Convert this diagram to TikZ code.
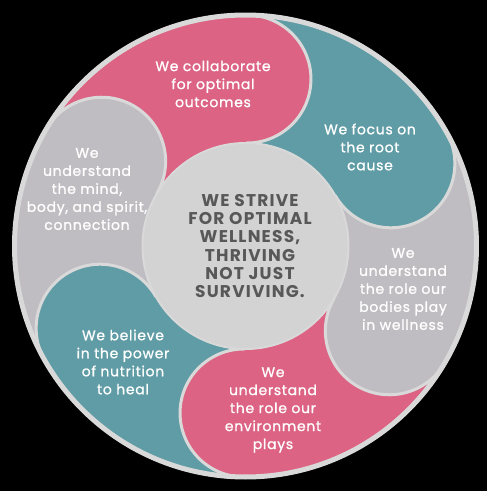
\documentclass[tikz,border=0pt]{standalone}
\usepackage{fontspec}
\setmainfont{Poppins}
\usepackage{xcolor}
\usepackage{tikz}
\definecolor{petalpink}{HTML}{DC6383}
\definecolor{petalteal}{HTML}{5F9CA5}
\definecolor{petalgray}{HTML}{BFBDC1}
\definecolor{hubgray}{HTML}{D3D3D3}
\definecolor{seamgray}{HTML}{D9D9D9}
\definecolor{hubtext}{HTML}{585858}
\tikzstyle{pinkpart}=[fill=petalpink]
\tikzstyle{tealpart}=[fill=petalteal]
\tikzstyle{graypart}=[fill=petalgray]
\tikzstyle{seam}=[draw=seamgray, line width=3pt]
\tikzstyle{rim}=[draw=seamgray, line width=5pt]
\tikzstyle{hub}=[circle, fill=hubgray, draw=seamgray, line width=2pt,
        minimum size=206pt, inner sep=0pt]
\tikzstyle{petaltext}=[align=center, text=white, inner sep=0pt,
        font=\fontsize{14}{18}\selectfont\addfontfeatures{LetterSpace=5,FakeBold=1}]
\tikzstyle{motto}=[align=center, text=hubtext, inner sep=0pt,
        font=\fontsize{17}{18.3}\selectfont\bfseries\addfontfeatures{LetterSpace=7}]

\begin{document}
\begin{tikzpicture}
      [x=1pt, y=1pt]
      \fill[black] (-245.5,-245) rectangle (241.5,246);
      \useasboundingbox (-245.5,-245) rectangle (241.5,246);
      % Ring parts, one for each petal
      \fill[pinkpart] (89.5:100) arc[start angle=89.5, end angle=149.5, radius=100] -- (149.5:233) arc[start angle=149.5, end angle=89.5, radius=233] -- cycle;
      \fill[tealpart] (29.5:100) arc[start angle=29.5, end angle=89.5, radius=100] -- (89.5:233) arc[start angle=89.5, end angle=29.5, radius=233] -- cycle;
      \fill[graypart] (-30.5:100) arc[start angle=-30.5, end angle=29.5, radius=100] -- (29.5:233) arc[start angle=29.5, end angle=-30.5, radius=233] -- cycle;
      \fill[pinkpart] (-90.5:100) arc[start angle=-90.5, end angle=-30.5, radius=100] -- (-30.5:233) arc[start angle=-30.5, end angle=-90.5, radius=233] -- cycle;
      \fill[tealpart] (-150.5:100) arc[start angle=-150.5, end angle=-90.5, radius=100] -- (-90.5:233) arc[start angle=-90.5, end angle=-150.5, radius=233] -- cycle;
      \fill[graypart] (149.5:100) arc[start angle=149.5, end angle=209.5, radius=100] -- (209.5:233) arc[start angle=209.5, end angle=149.5, radius=233] -- cycle;
      % Round heads
      \fill[pinkpart] (89.5:167) circle (64);
      \fill[tealpart] (29.5:167) circle (64);
      \fill[graypart] (-30.5:167) circle (64);
      \fill[pinkpart] (-90.5:167) circle (64);
      \fill[tealpart] (-150.5:167) circle (64);
      \fill[graypart] (149.5:167) circle (64);
      % Seams along the heads
      \draw[seam] (89.5:231) arc[start angle=89.5, end angle=-90.5, radius=64];
      \draw[seam] (29.5:231) arc[start angle=29.5, end angle=-150.5, radius=64];
      \draw[seam] (-30.5:231) arc[start angle=-30.5, end angle=-210.5, radius=64];
      \draw[seam] (-90.5:231) arc[start angle=-90.5, end angle=-270.5, radius=64];
      \draw[seam] (-150.5:231) arc[start angle=-150.5, end angle=-330.5, radius=64];
      \draw[seam] (149.5:231) arc[start angle=149.5, end angle=-30.5, radius=64];
      \draw[rim] (0,0) circle (231);
      % Place nodes
      \node [hub] (hub) at (0,0) {};
      \node [motto] (strive) at (4.5,0) {WE STRIVE\\FOR OPTIMAL\\WELLNESS,\\THRIVING\\NOT JUST\\SURVIVING.};
      \node [petaltext] (collab) at (-32.5,162) {We collaborate\\for optimal\\outcomes};
      \node [petaltext] (focus) at (124.5,99) {We focus on\\the root\\cause};
      \node [petaltext] (bodies) at (157.5,-43) {We\\understand\\the role our\\bodies play\\in wellness};
      \node [petaltext] (environ) at (27.5,-164) {We\\understand\\the role our\\environment\\plays};
      \node [petaltext] (nutrition) at (-122.5,-116) {We believe\\in the power\\of nutrition\\to heal};
      \node [petaltext] (mind) at (-158.5,57) {We\\understand\\the mind,\\body, and spirit,\\connection};
\end{tikzpicture}
\end{document}
